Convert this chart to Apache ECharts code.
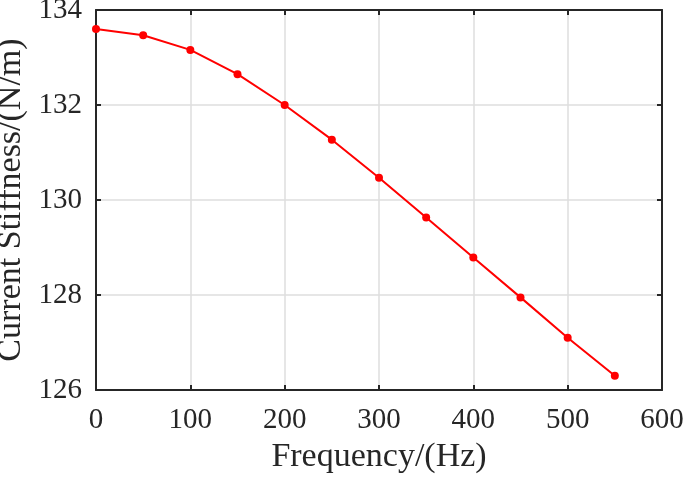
<!DOCTYPE html>
<html><head><meta charset="utf-8">
<script src="https://cdn.jsdelivr.net/npm/echarts@6/dist/echarts.min.js"></script>
<style>html,body{margin:0;padding:0;background:#fff}#c{width:685px;height:478px}</style>
</head><body><div id="c"></div>
<script>
const freq = [0, 50, 100, 150, 200, 250, 300, 350, 400, 450, 500, 550];
const stiffness = [133.60, 133.47, 133.16, 132.65, 132.00, 131.27, 130.47, 129.63, 128.79, 127.95, 127.10, 126.30];
const xName = 'Frequency/(Hz)';
const yName = 'Current Stiffness/(N/m)';
const font = "'Liberation Serif', 'Times New Roman', serif";
const chart = echarts.init(document.getElementById('c'));
const axisCol = '#262626';
const gridCol = '#dedede';
chart.setOption({
  animation: false,
  grid: {left: 96, right: 23, top: 10, bottom: 88, containLabel: false, outerBoundsMode: 'none'},
  xAxis: [{
    type: 'value', min: 0, max: 600, interval: 100,
    name: xName, nameLocation: 'middle', nameGap: 48,
    nameTextStyle: {fontFamily: font, fontSize: 34, color: axisCol},
    axisLine: {show: true, onZero: false, lineStyle: {color: axisCol, width: 2}},
    axisTick: {show: true, inside: true, length: 5, lineStyle: {color: axisCol, width: 2}},
    axisLabel: {fontFamily: font, fontSize: 29, color: axisCol, margin: 16},
    splitLine: {show: true, lineStyle: {color: gridCol, width: 1.5}}
  }, {
    type: 'value', min: 0, max: 600, interval: 100, position: 'top',
    axisLine: {show: true, onZero: false, lineStyle: {color: axisCol, width: 2}},
    axisTick: {show: true, inside: true, length: 5, lineStyle: {color: axisCol, width: 2}},
    axisLabel: {show: false}, splitLine: {show: false}
  }],
  yAxis: [{
    type: 'value', min: 126, max: 134, interval: 2,
    name: yName, nameLocation: 'middle', nameGap: 64,
    nameTextStyle: {fontFamily: font, fontSize: 34, color: axisCol},
    axisLine: {show: true, onZero: false, lineStyle: {color: axisCol, width: 2}},
    axisTick: {show: true, inside: true, length: 5, lineStyle: {color: axisCol, width: 2}},
    axisLabel: {fontFamily: font, fontSize: 29, color: axisCol, margin: 14},
    splitLine: {show: true, lineStyle: {color: gridCol, width: 1.5}}
  }, {
    type: 'value', min: 126, max: 134, interval: 2, position: 'right',
    axisLine: {show: true, onZero: false, lineStyle: {color: axisCol, width: 2}},
    axisTick: {show: true, inside: true, length: 5, lineStyle: {color: axisCol, width: 2}},
    axisLabel: {show: false}, splitLine: {show: false}
  }],
  series: [{
    type: 'line',
    data: freq.map((f, i) => [f, stiffness[i]]),
    symbol: 'circle', symbolSize: 8,
    itemStyle: {color: '#ff0000'},
    lineStyle: {color: '#ff0000', width: 2}
  }]
});
</script></body></html>
